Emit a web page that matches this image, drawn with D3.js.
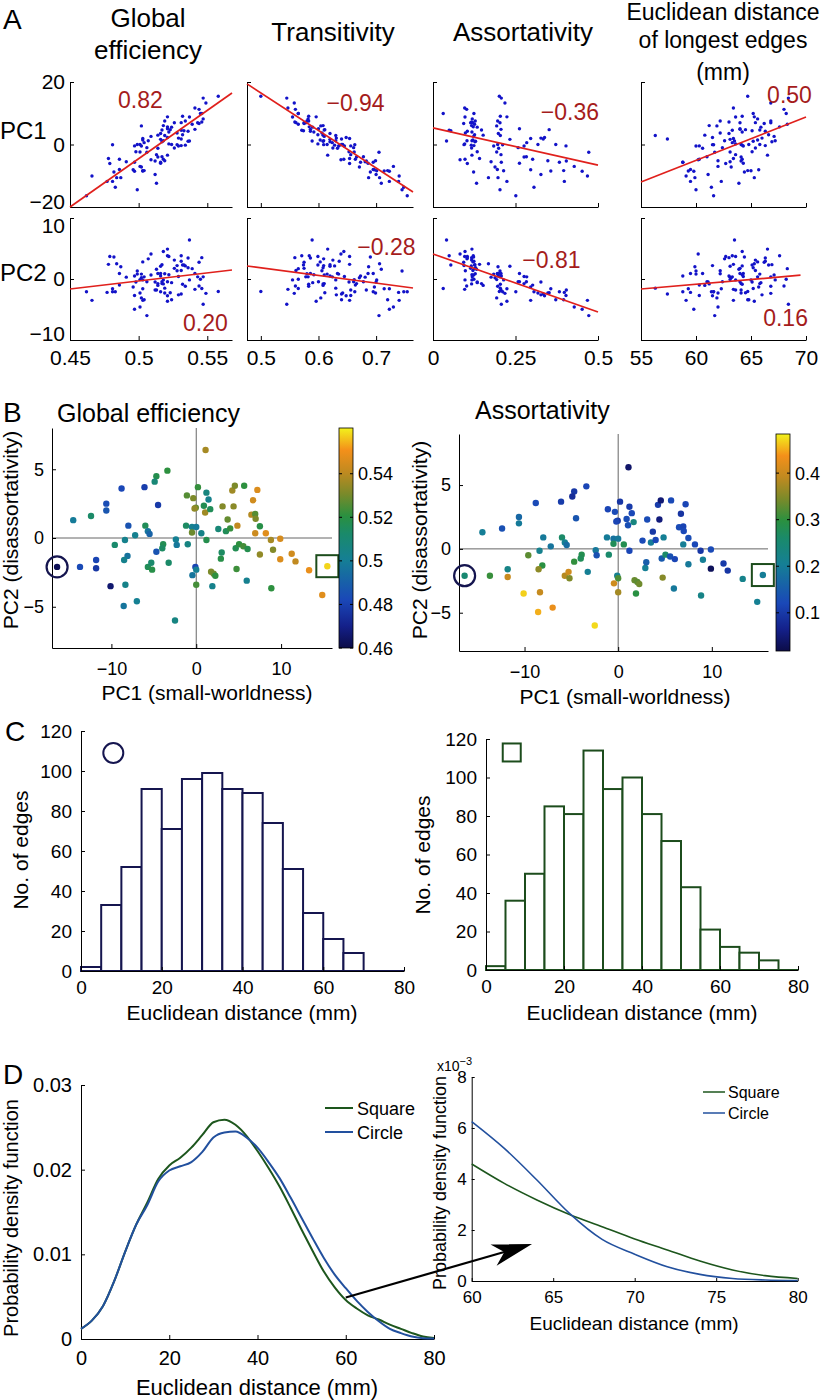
<!DOCTYPE html>
<html><head><meta charset="utf-8">
<script src="https://cdn.jsdelivr.net/npm/d3@7"></script>
<style>body{margin:0;background:#fff}</style>
</head><body>
<script>
// ---------------- DATA ----------------
// per-subject principal components
const pc1 = [1.1,-3.4,-4.7,-4.9,-8.8,-6.1,-10.6,-10.6,-4.5,-14.5,
-12.4,-8.0,-7.2,-6.0,-5.7,-5.5,-9.6,-8.4,-3.9,-4.0,
-4.7,-2.4,-2.3,-1.0,-8.1,-8.5,-11.8,-11.8,-13.7,-16.4,
-5.7,-5.3,-5.2,-3.25,-10.1,-8.35,-8.55,-7.0,-1.2,-1.1,
-0.35,0.2,1.2,1.45,0.9,-0.05,-0.2,1.05,1.65,-0.5,
0.0,-0.5,0.6,1.2,-0.1,0.0,-0.45,0.0,1.9,1.75,
2.05,2.25,4.75,2.9,3.0,4.65,2.6,3.5,4.0,3.1,
3.7,4.4,4.25,4.55,5.65,4.85,7.2,6.7,6.5,6.95,
7.0,7.5,6.95,8.2,8.8,9.9,5.05,5.55,6.05,7.5,
9.05,9.9,11.25,11.7,13.3,15.45,14.85,5.95,8.85,-2.5];
const pc2 = [6.4,4.9,4.5,4.1,3.6,3.7,2.5,2.0,2.4,1.3,
1.6,0.9,0.2,0.9,0.5,0.3,-0.5,-0.15,-0.45,-0.75,
-1.0,-0.1,-0.5,-0.45,-1.3,-1.6,-1.6,-2.2,-2.1,-2.1,
-2.1,-1.8,-2.3,-1.8,-3.5,-3.4,-4.95,-4.6,0.9,3.1,
2.9,3.7,3.3,2.8,2.35,2.2,2.15,1.85,2.1,0.8,
0.8,0.4,0.35,-0.15,-2.1,-2.3,-2.7,-3.4,-3.5,-2.45,
-2.6,-2.75,-2.25,-1.5,-1.05,-0.75,0.65,0.5,0.7,2.3,
1.35,2.3,3.45,3.8,3.8,0.9,3.5,2.75,1.7,1.75,
1.4,0.85,0.35,0.35,-0.15,-0.05,-0.45,-0.6,-0.8,-1.2,
-0.85,-1.55,-1.15,-1.7,-2.35,-2.05,-4.15,-3.1,-3.65,-6.0];
const globalEff = [0.537,0.521,0.518,0.509,0.482,0.479,0.484,0.487,0.478,0.499,
0.513,0.486,0.502,0.516,0.497,0.491,0.512,0.503,0.517,0.514,
0.486,0.501,0.498,0.506,0.496,0.503,0.481,0.477,0.483,0.462,
0.516,0.512,0.519,0.513,0.466,0.504,0.497,0.501,0.514,0.526,
0.531,0.522,0.507,0.503,0.517,0.528,0.534,0.536,0.516,0.502,
0.499,0.529,0.504,0.518,0.481,0.501,0.497,0.524,0.503,0.531,
0.529,0.521,0.523,0.519,0.514,0.517,0.509,0.516,0.522,0.532,
0.528,0.533,0.536,0.531,0.521,0.541,0.546,0.544,0.539,0.526,
0.531,0.519,0.543,0.547,0.537,0.545,0.521,0.524,0.518,0.534,
0.532,0.546,0.544,0.541,0.549,0.558,0.547,0.502,0.521,0.506];
const assort = [0.041,0.118,0.097,0.082,0.123,0.104,0.168,0.197,0.141,0.203,
0.132,0.195,0.188,0.262,0.207,0.176,0.327,0.214,0.283,0.276,
0.302,0.193,0.134,0.258,0.296,0.357,0.224,0.398,0.306,0.251,
0.383,0.404,0.348,0.206,0.468,0.396,0.452,0.428,0.199,0.117,
0.124,0.096,0.103,0.121,0.127,0.094,0.116,0.129,0.233,0.184,
0.196,0.276,0.284,0.118,0.211,0.318,0.403,0.372,0.296,0.334,
0.327,0.338,0.352,0.204,0.152,0.147,0.123,0.198,0.118,0.126,
0.098,0.054,0.104,0.049,0.122,0.206,0.117,0.093,0.126,0.114,
0.121,0.128,0.203,0.119,0.097,0.124,0.262,0.134,0.117,0.196,
0.204,0.031,0.102,0.096,0.218,0.201,0.207,0.193,0.224,0.472];
const transit = [0.589,0.616,0.644,0.639,0.690,0.654,0.706,0.687,0.654,0.745,
0.709,0.695,0.671,0.686,0.673,0.681,0.700,0.701,0.678,0.666,
0.664,0.662,0.653,0.661,0.697,0.714,0.723,0.739,0.748,0.754,
0.695,0.683,0.699,0.656,0.740,0.720,0.723,0.730,0.633,0.625,
0.636,0.599,0.609,0.603,0.620,0.609,0.628,0.608,0.620,0.635,
0.615,0.645,0.624,0.630,0.663,0.642,0.656,0.640,0.654,0.640,
0.631,0.648,0.611,0.630,0.608,0.610,0.610,0.620,0.592,0.599,
0.606,0.574,0.586,0.571,0.584,0.586,0.559,0.575,0.565,0.575,
0.561,0.580,0.578,0.582,0.555,0.565,0.600,0.590,0.608,0.583,
0.583,0.565,0.560,0.547,0.558,0.500,0.545,0.604,0.596,0.705];
const edLong = [63.5,66.5,64.2,60.2,64.4,62.7,65.3,59.9,63.4,60.0,
63.9,59.5,63.2,64.3,58.8,63.1,61.1,65.0,61.0,64.1,
60.3,63.1,65.1,62.4,65.7,59.3,62.3,59.5,61.4,61.6,
58.8,64.1,62.0,63.6,59.1,64.7,59.8,62.0,60.6,65.4,
66.3,63.6,62.6,65.6,66.9,61.5,64.2,65.2,63.1,60.0,
65.8,64.3,63.3,67.2,61.6,64.1,60.3,64.8,63.4,57.4,
66.0,61.5,64.5,56.3,60.8,65.8,67.1,63.0,64.2,66.6,
62.2,65.1,66.3,63.3,67.6,64.0,63.0,66.2,68.3,64.0,
65.4,62.2,66.8,65.6,63.6,68.2,64.0,65.9,61.2,66.8,
64.2,65.2,68.0,63.4,66.8,64.7,68.4,61.9,65.3,61.7];
const circleSubject = 29;   // index of subject marked with the circle
const squareSubject = 95;   // index of subject marked with the square

// Panel A: regression lines [x0, y0, x1, y1] and correlation labels
const fitRow1 = [[0.45,-20,0.568,16.5],[0.476,19.4,0.764,-15.2],[0,5.3,0.5,-6.6],[55,-12,70,8.8]];
const fitRow2 = [[0.45,-1.64,0.568,1.48],[0.476,2.13,0.764,-1.48],[0,4.1,0.5,-5.4],[55,-1.64,69.5,0.62]];
const corrRow1 = ["0.82","\u22120.94","\u22120.36","0.50"];
const corrRow2 = ["0.20","\u22120.28","\u22120.81","0.16"];
const titlesA = [["Global","efficiency"],["Transitivity"],["Assortativity"],["Euclidean distance","of longest edges","(mm)"]];
const xTicksA = [[0.45,0.5,0.55],[0.5,0.6,0.7],[0,0.25,0.5],[55,60,65,70]];
const xTickLabA = [["0.45","0.5","0.55"],["0.5","0.6","0.7"],["0","0.25","0.5"],["55","60","65","70"]];
const yTicksA = [[-20,0,20],[-10,0,10]];
const yTickLabA = [["\u221220","0","20"],["\u221210","0","10"]];

// Panel B
const bTicks = [-10,0,10], bTickLab = ["\u221210","0","10"];
const bYTicks = [-5,0,5], bYTickLab = ["\u22125","0","5"];
const cbTicksGE = [0.46,0.48,0.5,0.52,0.54], cbLabGE = ["0.46","0.48","0.5","0.52","0.54"];
const cbTicksAS = [0.1,0.2,0.3,0.4], cbLabAS = ["0.1","0.2","0.3","0.4"];

// Panel C: histogram, 5 mm bins
const binEdges = [0,5,10,15,20,25,30,35,40,45,50,55,60,65,70,75,80];
const histCircle = [2,33,52,91,71,96,99,91,89,74,51,29,16,9,0,0];
const histSquare = [2,36,50,85,81,114,94,100,81,67,43,21,12,9,5,0];
const cTicksX = [0,20,40,60,80], cTicksY = [0,20,40,60,80,100,120];

// Panel D: probability density
const distX = [0,2.5,5,7.5,10,12.5,15,17.5,20,22.5,25,27.5,30,32.5,35,37.5,40,42.5,45,47.5,50,52.5,55,57.5,60,62.5,65,67.5,70,72.5,75,77.5,80];
const pdfSquare = [0.0012,0.0022,0.0039,0.0068,0.0103,0.0135,0.0161,0.0189,0.0205,0.0214,0.0226,0.0241,0.0256,0.0259,0.0253,0.0240,0.0222,0.0202,0.0180,0.0155,0.0129,0.0104,0.0080,0.0061,0.0046,0.0036,0.0028,0.0023,0.0017,0.0012,0.0007,0.0003,0.00012];
const pdfCircle = [0.0012,0.0022,0.0039,0.0068,0.0103,0.0135,0.0158,0.0186,0.0199,0.0204,0.0209,0.0221,0.0238,0.0244,0.0245,0.0238,0.0226,0.0209,0.0190,0.0167,0.0143,0.0119,0.0096,0.0076,0.0060,0.0045,0.0032,0.0021,0.0012,0.0007,0.0003,0.0001,0.00005];
const insetX = [60,62,64,66,68,70,72,74,76,78,80];
const insetSquare = [4.59,3.83,3.18,2.61,2.13,1.65,1.22,0.78,0.43,0.21,0.10];   // x10^-3
const insetCircle = [6.25,5.20,3.96,2.65,1.63,1.05,0.56,0.26,0.10,0.04,0.02];  // x10^-3
const dTicksY = [0,0.01,0.02,0.03], dTickLabY = ["0","0.01","0.02","0.03"];
const insetTicksX = [60,65,70,75,80], insetTicksY = [0,2,4,6,8];
const arrowFrom = [60, 0.0049];   // in main D axes
const arrowTo = [63.7, 1.45];     // in inset axes

// colormap
const cmapPos = [0,0.10,0.22,0.40,0.52,0.60,0.70,0.80,0.90,1];
const cmapCol = ["#0c0c48","#14208a","#1a48b8","#157f95","#1a8a6a","#2a9040","#7a8a2a","#c08a20","#f4901a","#f2f21c"];

// ---------------- DRAW ----------------
const FONT = '"Liberation Sans", Arial, Helvetica, sans-serif';
const NAVY = "#15154f", DGREEN = "#1c4c1c", CBLUE = "#22509e", CGREEN = "#1d561d";
const svg = d3.select("body").append("svg").attr("width",825).attr("height",1400);
svg.append("rect").attr("width",825).attr("height",1400).attr("fill","#fff");

function txt(x, y, s, size, o = {}) {
  const t = svg.append("text").attr("x",x).attr("y",y).attr("font-size",size)
    .attr("font-family",FONT).attr("fill",o.fill || "#000")
    .attr("text-anchor",o.anchor || "start").text(s);
  if (o.rotate) t.attr("transform",`rotate(-90,${x},${y})`);
  return t;
}
function makeAxis(scale, orient, tx, ty, vals, labels, size, pad, tick = 4) {
  const a = (orient === "left" ? d3.axisLeft(scale) : d3.axisBottom(scale))
    .tickValues(vals).tickSizeInner(-tick).tickSizeOuter(0).tickPadding(pad)
    .tickFormat((d, i) => labels ? labels[i] : "");
  const g = svg.append("g").attr("transform",`translate(${tx},${ty})`).call(a);
  g.attr("font-family",FONT).attr("font-size",size);
  g.selectAll("text").attr("fill","#000");
  g.select(".domain").attr("stroke","#000");
  g.selectAll(".tick line").attr("stroke","#000");
  return g;
}

// ---- Panel A ----
txt(3, 29, "A", 28);
const colsA = [
  {vals:globalEff, dom:[0.45,0.568], px:[70,232], tsize:26, tx:148, ty:[27,59]},
  {vals:transit, dom:[0.476,0.764], px:[247,413], tsize:26, tx:333, ty:[41]},
  {vals:assort, dom:[0,0.5], px:[433,598], tsize:26, tx:523, ty:[41]},
  {vals:edLong, dom:[55,70], px:[641,806], tsize:23, tx:723, ty:[20,48,80]}
];
const rowsA = [
  {pc:pc1, dom:[-20,20], py:[207,82], fits:fitRow1, corr:corrRow1, name:"PC1", ny:139,
   dys:["0.05em","0.32em","0.32em"],
   pos:[[0.435,0.144],[0.654,0.168],[0.83,0.24],[0.9,0.104]]},
  {pc:pc2, dom:[-10,10], py:[340,218], fits:fitRow2, corr:corrRow2, name:"PC2", ny:281,
   dys:["0.0em","0.32em","0.7em"],
   pos:[[0.836,0.86],[0.84,0.238],[0.718,0.344],[0.876,0.82]]}
];
rowsA.forEach(r => txt(0, r.ny, r.name, 24));
colsA.forEach((c, ci) => {
  const x = d3.scaleLinear().domain(c.dom).range(c.px);
  titlesA[ci].forEach((t, k) => txt(c.tx, c.ty[k], t, c.tsize, {anchor:"middle"}));
  rowsA.forEach((r, ri) => {
    const y = d3.scaleLinear().domain(r.dom).range(r.py);
    const ya = makeAxis(y, "left", c.px[0], 0, yTicksA[ri], ci === 0 ? yTickLabA[ri] : null, 21, 5);
    ya.selectAll(".tick text").attr("dy", (d, i) => r.dys[i]);
    makeAxis(x, "bottom", 0, r.py[0], xTicksA[ci], ri === 1 ? xTickLabA[ci] : null, 21, 10);
    svg.append("g").selectAll("circle").data(c.vals).join("circle")
      .attr("cx", d => x(d)).attr("cy", (d, i) => y(r.pc[i])).attr("r", 1.7).attr("fill", "#1212c8");
    const f = r.fits[ci];
    svg.append("line").attr("x1", x(f[0])).attr("y1", y(f[1])).attr("x2", x(f[2])).attr("y2", y(f[3]))
      .attr("stroke", "#e0201c").attr("stroke-width", 1.7);
    const p = r.pos[ci];
    txt(c.px[0] + p[0] * (c.px[1] - c.px[0]), r.py[1] + p[1] * (r.py[0] - r.py[1]) + 8, r.corr[ci], 23,
        {anchor:"middle", fill:"#a51c1c"});
  });
});

// ---- Panel B ----
txt(3, 422, "B", 28);
const cmap = d3.scaleLinear().domain(cmapPos).range(cmapCol).interpolate(d3.interpolateRgb).clamp(true);
const defs = svg.append("defs");
const grad = defs.append("linearGradient").attr("id","cbar").attr("x1",0).attr("y1",1).attr("x2",0).attr("y2",0);
cmapPos.forEach((p, i) => grad.append("stop").attr("offset", p).attr("stop-color", cmapCol[i]));
const panelsB = [
  {title:"Global efficiency", tx:57, ty:422, vals:globalEff, px:[52,332], py:[648,428], ydom:[-8,8],
   cdom:[0.46,0.561], cb:[339,353], ct:cbTicksGE, cl:cbLabGE, ylx:18, yly:530, xlx:207, xly:700},
  {title:"Assortativity", tx:475, ty:419, vals:assort, px:[459,768], py:[651,434], ydom:[-8,9],
   cdom:[0.018,0.484], cb:[776,790], ct:cbTicksAS, cl:cbLabAS, ylx:427, yly:540, xlx:625, xly:704}
];
panelsB.forEach(b => {
  const x = d3.scaleLinear().domain([-17,16]).range(b.px);
  const y = d3.scaleLinear().domain(b.ydom).range(b.py);
  txt(b.tx, b.ty, b.title, 25);
  svg.append("line").attr("x1", x(0)).attr("x2", x(0)).attr("y1", b.py[0]).attr("y2", b.py[1]).attr("stroke", "#666");
  svg.append("line").attr("x1", b.px[0]).attr("x2", b.px[1]).attr("y1", y(0)).attr("y2", y(0)).attr("stroke", "#666");
  makeAxis(y, "left", b.px[0], 0, bYTicks, bYTickLab, 18, 8);
  makeAxis(x, "bottom", 0, b.py[0], bTicks, bTickLab, 18, 14);
  const frac = v => (v - b.cdom[0]) / (b.cdom[1] - b.cdom[0]);
  svg.append("g").selectAll("circle").data(b.vals).join("circle")
    .attr("cx", (d, i) => x(pc1[i])).attr("cy", (d, i) => y(pc2[i])).attr("r", 3.2)
    .attr("fill", d => cmap(frac(d)));
  svg.append("circle").attr("cx", x(pc1[circleSubject])).attr("cy", y(pc2[circleSubject])).attr("r", 10.5)
    .attr("fill", "none").attr("stroke", NAVY).attr("stroke-width", 2.2);
  svg.append("rect").attr("x", x(pc1[squareSubject]) - 11).attr("y", y(pc2[squareSubject]) - 11)
    .attr("width", 22).attr("height", 22).attr("fill", "none").attr("stroke", DGREEN).attr("stroke-width", 2);
  txt(b.ylx, b.yly, "PC2 (disassortativity)", 21, {anchor:"middle", rotate:true});
  txt(b.xlx, b.xly, "PC1 (small-worldness)", 21, {anchor:"middle"});
  // colorbar
  const cy = d3.scaleLinear().domain(b.cdom).range(b.py);
  svg.append("rect").attr("x", b.cb[0]).attr("y", b.py[1]).attr("width", b.cb[1] - b.cb[0])
    .attr("height", b.py[0] - b.py[1]).attr("fill", "url(#cbar)").attr("stroke", "#000").attr("stroke-width", 0.8);
  b.ct.forEach((t, i) => {
    svg.append("line").attr("x1", b.cb[1] - 3).attr("x2", b.cb[1]).attr("y1", cy(t)).attr("y2", cy(t)).attr("stroke", "#000");
    svg.append("line").attr("x1", b.cb[0]).attr("x2", b.cb[0] + 3).attr("y1", cy(t)).attr("y2", cy(t)).attr("stroke", "#000");
    txt(b.cb[1] + 5, cy(t) + 6.5, b.cl[i], 18);
  });
});

// ---- Panel C ----
txt(5, 741, "C", 28);
const panelsC = [
  {counts:histCircle, px:[81,404], py:[971,731], color:NAVY, mark:"circle", mk:[8,109], ylx:28, yly:850, xlx:242, xly:1020},
  {counts:histSquare, px:[486,798], py:[970,739], color:DGREEN, mark:"square", mk:[6.6,113], ylx:430, yly:855, xlx:642, xly:1020}
];
panelsC.forEach(p => {
  const x = d3.scaleLinear().domain([0,80]).range(p.px);
  const y = d3.scaleLinear().domain([0,120]).range(p.py);
  svg.append("g").selectAll("rect").data(p.counts).join("rect")
    .attr("x", (d, i) => x(binEdges[i])).attr("width", (d, i) => x(binEdges[i + 1]) - x(binEdges[i]))
    .attr("y", d => y(d)).attr("height", d => y(0) - y(d))
    .attr("fill", "#fff").attr("stroke", p.color).attr("stroke-width", 2);
  svg.append("line").attr("x1", p.px[0]).attr("x2", p.px[1]).attr("y1", p.py[0]).attr("y2", p.py[0]).attr("stroke", p.color).attr("stroke-width", 2);
  makeAxis(y, "left", p.px[0], 0, cTicksY, cTicksY.map(String), 19, 9);
  makeAxis(x, "bottom", 0, p.py[0], cTicksX, cTicksX.map(String), 19, 10);
  if (p.mark === "circle") {
    svg.append("circle").attr("cx", x(p.mk[0])).attr("cy", y(p.mk[1])).attr("r", 10)
      .attr("fill", "none").attr("stroke", p.color).attr("stroke-width", 2);
  } else {
    svg.append("rect").attr("x", x(p.mk[0]) - 9).attr("y", y(p.mk[1]) - 9).attr("width", 18).attr("height", 18)
      .attr("fill", "none").attr("stroke", p.color).attr("stroke-width", 2);
  }
  txt(p.ylx, p.yly, "No. of edges", 21, {anchor:"middle", rotate:true});
  txt(p.xlx, p.xly, "Euclidean distance (mm)", 21, {anchor:"middle"});
});

// ---- Panel D ----
txt(3, 1084, "D", 28);
const xD = d3.scaleLinear().domain([0,80]).range([81,434]);
const yD = d3.scaleLinear().domain([0,0.03]).range([1339,1085]);
makeAxis(yD, "left", 81, 0, dTicksY, dTickLabY, 20, 9);
makeAxis(xD, "bottom", 0, 1339, cTicksX, cTicksX.map(String), 20, 12);
const lineD = d3.line().x((d, i) => xD(distX[i])).y(d => yD(d)).curve(d3.curveMonotoneX);
svg.append("path").attr("d", lineD(pdfSquare)).attr("fill", "none").attr("stroke", CGREEN).attr("stroke-width", 2);
svg.append("path").attr("d", lineD(pdfCircle)).attr("fill", "none").attr("stroke", CBLUE).attr("stroke-width", 2);
txt(18, 1218, "Probability density function", 20, {anchor:"middle", rotate:true});
txt(257, 1395, "Euclidean distance (mm)", 22, {anchor:"middle"});
[["Square", CGREEN, 1108], ["Circle", CBLUE, 1132]].forEach(l => {
  svg.append("line").attr("x1", 325).attr("x2", 353).attr("y1", l[2]).attr("y2", l[2]).attr("stroke", l[1]).attr("stroke-width", 2);
  txt(357, l[2] + 6.5, l[0], 18);
});

// inset
const xI = d3.scaleLinear().domain([60,80]).range([471.7,797.7]);
const yI = d3.scaleLinear().domain([0,8]).range([1281,1077]);
makeAxis(yI, "left", 471.7, 0, insetTicksY, insetTicksY.map(String), 17, 5, 3);
makeAxis(xI, "bottom", 0, 1281, insetTicksX, insetTicksX.map(String), 17, 10, 3);
const lineI = d3.line().x((d, i) => xI(insetX[i])).y(d => yI(d)).curve(d3.curveMonotoneX);
svg.append("path").attr("d", lineI(insetSquare)).attr("fill", "none").attr("stroke", CGREEN).attr("stroke-width", 1.6);
svg.append("path").attr("d", lineI(insetCircle)).attr("fill", "none").attr("stroke", CBLUE).attr("stroke-width", 1.6);
const exp = txt(437, 1071, "x10", 14);
exp.append("tspan").attr("dy", -6).attr("font-size", 11).text("\u22123");
txt(446, 1183, "Probability density function", 18, {anchor:"middle", rotate:true});
txt(634, 1330, "Euclidean distance (mm)", 19, {anchor:"middle"});
[["Square", CGREEN, 1092], ["Circle", CBLUE, 1113]].forEach(l => {
  svg.append("line").attr("x1", 703).attr("x2", 725).attr("y1", l[2]).attr("y2", l[2]).attr("stroke", l[1]).attr("stroke-width", 1.5);
  txt(728, l[2] + 5.5, l[0], 16);
});

// arrow from main curve to inset
const ax0 = xD(arrowFrom[0]), ay0 = yD(arrowFrom[1]);
const ax1 = xI(arrowTo[0]), ay1 = yI(arrowTo[1]);
const len = Math.hypot(ax1 - ax0, ay1 - ay0), ux = (ax1 - ax0) / len, uy = (ay1 - ay0) / len;
const L = 40, w = 11;
svg.append("line").attr("x1", ax0).attr("y1", ay0).attr("x2", ax1 - ux * L * 0.7).attr("y2", ay1 - uy * L * 0.7)
  .attr("stroke", "#000").attr("stroke-width", 2.2);
const head = [[ax1, ay1], [ax1 - ux * L - uy * w, ay1 - uy * L + ux * w], [ax1 - ux * L * 0.72, ay1 - uy * L * 0.72],
  [ax1 - ux * L + uy * w, ay1 - uy * L - ux * w]];
svg.append("polygon").attr("points", head.map(p => p.join(",")).join(" ")).attr("fill", "#000");
</script>
</body></html>
